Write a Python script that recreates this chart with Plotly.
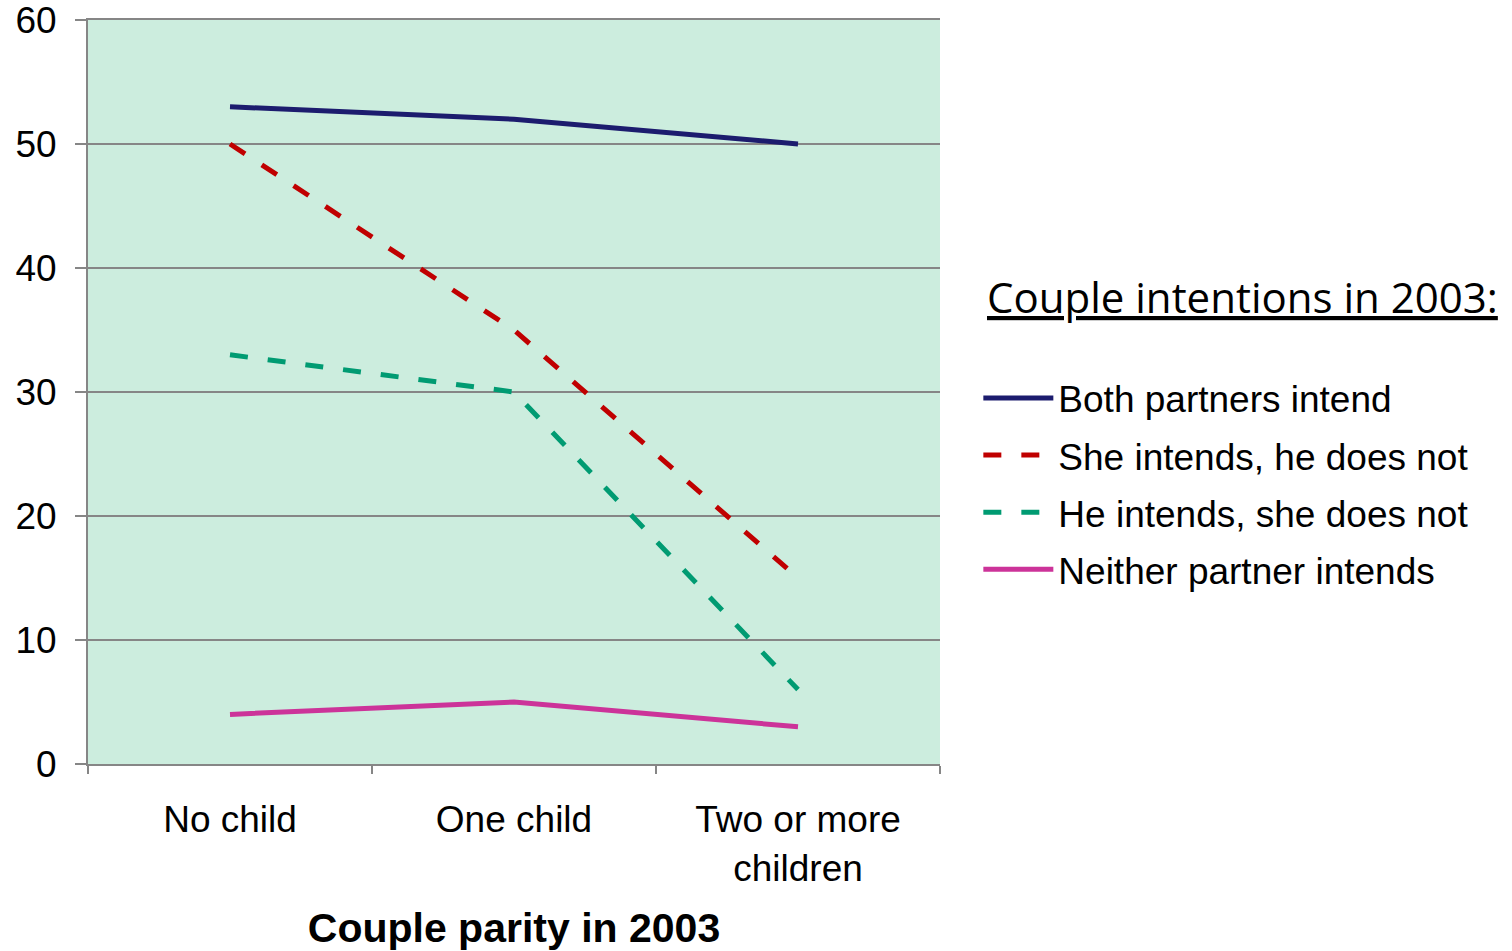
import plotly.graph_objects as go

categories = ["No child", "One child", "Two or more<br>children"]
both_intend = [53, 52, 50]
she_intends = [50, 35, 15]
he_intends = [33, 30, 6]
neither_intends = [4, 5, 3]
y_ticks = [0, 10, 20, 30, 40, 50, 60]

series_names = ["Both partners intend", "She intends, he does not",
                "He intends, she does not", "Neither partner intends"]
series_values = [both_intend, she_intends, he_intends, neither_intends]
colors = ["#1C1C6E", "#C00000", "#009B72", "#CC3399"]
dashes = ["solid", "18px,20px", "18px,20px", "solid"]

fig = go.Figure()
for name, vals, col, dash in zip(series_names, series_values, colors, dashes):
    fig.add_trace(go.Scatter(
        x=categories, y=vals, mode="lines", name=name, legendgroup=name,
        line=dict(color=col, width=5, dash=dash),
    ))

fig.update_layout(
    width=1512, height=951,
    margin=dict(l=88, r=572, t=20, b=187),
    paper_bgcolor="white",
    plot_bgcolor="#CCEDDE",
    font=dict(family="Liberation Sans, Arial, sans-serif", size=37, color="black"),
    showlegend=True,
    legend=dict(
        x=1.045, y=0.533, xanchor="left", yanchor="top",
        font=dict(size=37, family="Liberation Sans, Arial, sans-serif"),
        itemwidth=70, tracegroupgap=6, bgcolor="rgba(0,0,0,0)",
    ),
    xaxis=dict(
        type="category", range=[-0.5, 2.5], automargin=False,
        tickson="boundaries", ticks="outside", ticklen=8, tickwidth=2,
        tickcolor="#868686", showline=True, mirror=True,
        linecolor="#868686", linewidth=2,
        showgrid=False, ticklabelstandoff=22,
        title=dict(text="<b>Couple parity in 2003</b>",
                   font=dict(size=41, family="Liberation Sans, Arial, sans-serif"),
                   standoff=26),
    ),
    yaxis=dict(
        range=[0, 60], tickmode="array", tickvals=y_ticks,
        ticktext=[str(v) for v in y_ticks], automargin=False,
        ticklabeloverflow="allow",
        ticks="outside", ticklen=11, tickwidth=2,
        tickcolor="#868686", showline=True, linecolor="#868686", linewidth=2,
        showgrid=True, gridcolor="#868686", gridwidth=2, zeroline=False,
        ticklabelstandoff=11,
    ),
    annotations=[dict(
        text="<u>Couple intentions in 2003:</u>",
        xref="paper", yref="paper", x=1.053, y=0.587,
        xanchor="left", yanchor="bottom", showarrow=False,
        font=dict(family="Open Sans, sans-serif", size=42, color="black"),
    )],
)

fig.write_html(
    "out.html",
    config={"displayModeBar": False},
    post_script="document.body.style.margin='0';document.body.style.overflow='hidden';",
)
